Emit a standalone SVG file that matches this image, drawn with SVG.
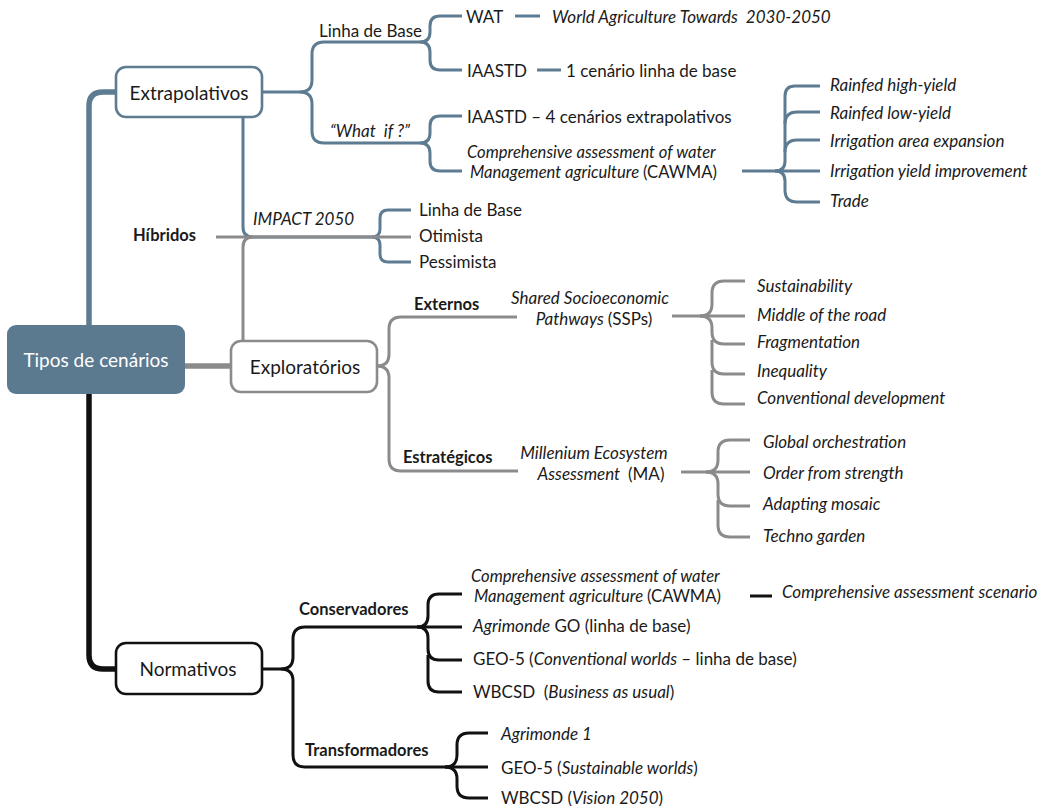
<svg xmlns="http://www.w3.org/2000/svg" width="1049" height="806" viewBox="0 0 1049 806">
<style>
.t{font-family:Lato,"Noto Sans",sans-serif;font-size:17px;fill:#1a1a1a;dominant-baseline:central;white-space:pre}
.i{font-style:italic}
.n{font-style:normal}
.sm{font-size:16.6px}
.b{font-weight:bold;font-size:16.5px}
.box{font-size:19px}
.c{fill:none;stroke-width:3;stroke-linecap:butt;stroke-linejoin:round}
.bl{stroke:#5d7b91}
.gr{stroke:#8b8b8d}
.k{stroke:#111}
.thick{stroke-width:5.5}
.nodebox{fill:#fff;stroke-width:2.6}
</style>
<rect width="1049" height="806" fill="#fff"/>
<g id="connectors">
  <path class="c bl thick" d="M89 326 V106 Q89 92 103 92 H117"/>
  <path class="c gr thick" d="M185 366 H232"/>
  <path class="c k thick" d="M89 393 V655 Q89 669 103 669 H117"/>
  <path class="c bl" d="M262 92 H300 Q312 92 312 80 V54 Q312 42 324 42 H420"/>
  <path class="c bl" d="M300 92 Q312 92 312 104 V131 Q312 143 324 143 H420"/>
  <path class="c bl" d="M420 42 Q430 42 430 32 V26 Q430 16 440 16 H462"/>
  <path class="c bl" d="M420 42 Q430 42 430 52 V60 Q430 70 440 70 H462"/>
  <path class="c bl" d="M515 16 H540"/>
  <path class="c bl" d="M537 70 H561"/>
  <path class="c bl" d="M420 143 Q430 143 430 133 V126 Q430 116 440 116 H462"/>
  <path class="c bl" d="M420 143 Q430 143 430 153 V161 Q430 171 440 171 H462"/>
  <path class="c bl" d="M742 171 H820"/>
  <path class="c bl" d="M775 171 Q785 171 785 161 V96 Q785 86 795 86 H820"/>
  <path class="c bl" d="M785 124 Q785 112 797 112 H820"/>
  <path class="c bl" d="M785 152 Q785 140 797 140 H820"/>
  <path class="c bl" d="M775 171 Q785 171 785 181 V190 Q785 202 797 202 H820"/>
  <path class="c bl" d="M243 117 V227 Q243 237 253 237 H372"/>
  <path class="c bl" d="M372 237 Q380 237 380 229 V218 Q380 210 388 210 H411"/>
  <path class="c bl" d="M372 237 Q380 237 380 245 V254 Q380 262 388 262 H411"/>
  <path class="c gr" d="M216 237 H411"/>
  <path class="c gr" d="M243 341 V247 Q243 237 253 237"/>
  <path class="c gr" d="M377 366 Q389 366 389 354 V329 Q389 317 401 317 H517"/>
  <path class="c gr" d="M377 366 Q389 366 389 378 V459 Q389 471 401 471 H518"/>
  <path class="c gr" d="M672 316 H745"/>
  <path class="c gr" d="M700 316 Q712 316 712 304 V293 Q712 281 724 281 H745"/>
  <path class="c gr" d="M700 316 Q712 316 712 328 V332 Q712 344 724 344 H745"/>
  <path class="c gr" d="M712 340 V362 Q712 374 724 374 H745"/>
  <path class="c gr" d="M712 370 V392 Q712 404 724 404 H745"/>
  <path class="c gr" d="M681 472 H750"/>
  <path class="c gr" d="M706 472 Q718 472 718 460 V452 Q718 440 730 440 H750"/>
  <path class="c gr" d="M706 472 Q718 472 718 484 V494 Q718 506 730 506 H750"/>
  <path class="c gr" d="M718 500 V525 Q718 537 730 537 H750"/>
  <path class="c k" d="M262 669 H281 Q293 669 293 657 V639 Q293 627 305 627 H417"/>
  <path class="c k" d="M281 669 Q293 669 293 681 V755 Q293 767 305 767 H445"/>
  <path class="c k" d="M417 627 H462"/>
  <path class="c k" d="M417 627 Q428 627 428 616 V605 Q428 594 439 594 H462"/>
  <path class="c k" d="M417 627 Q428 627 428 638 V649 Q428 660 439 660 H462"/>
  <path class="c k" d="M428 655 V681 Q428 692 439 692 H462"/>
  <path class="c k" d="M750 596 H772"/>
  <path class="c k" d="M445 767 H488"/>
  <path class="c k" d="M445 767 Q457 767 457 755 V745 Q457 733 469 733 H488"/>
  <path class="c k" d="M445 767 Q457 767 457 779 V786 Q457 798 469 798 H488"/>
</g>
<g id="root">
  <rect x="7" y="325" width="178" height="69" rx="9" fill="#5b798f"/>
  <text class="t box" x="96" y="359" text-anchor="middle" style="fill:#fff">Tipos de cenários</text>
</g>
<g id="extrapolativos">
  <rect class="nodebox" x="116" y="67" width="146" height="50" rx="10" stroke="#5d7b91"/>
  <text class="t box" x="189" y="92" text-anchor="middle">Extrapolativos</text>
</g>
<g id="exploratorios">
  <rect class="nodebox" x="231" y="341" width="146" height="51" rx="10" stroke="#8b8b8d"/>
  <text class="t box" x="305" y="366" text-anchor="middle">Exploratórios</text>
</g>
<g id="normativos">
  <rect class="nodebox" x="116" y="643" width="146" height="51" rx="10" stroke="#111"/>
  <text class="t box" x="188" y="668" text-anchor="middle">Normativos</text>
</g>
<g id="linha-base"><text class="t" x="319" y="30">Linha de Base</text></g>
<g id="wat"><text class="t" x="466" y="16">WAT</text></g>
<g id="wat-desc"><text class="t i" x="552" y="16">World Agriculture Towards  2030-2050</text></g>
<g id="iaastd"><text class="t" x="467" y="70">IAASTD</text></g>
<g id="iaastd-desc"><text class="t" x="566" y="70">1 cenário linha de base</text></g>
<g id="what-if"><text class="t i" x="330" y="130">“What  if ?”</text></g>
<g id="iaastd4"><text class="t" x="467" y="116">IAASTD – 4 cenários extrapolativos</text></g>
<g id="cawma1">
  <text class="t i sm" x="467" y="152">Comprehensive assessment of water</text>
  <text class="t i sm" x="470" y="172">Management agriculture <tspan class="n">(CAWMA)</tspan></text>
</g>
<g id="rainfed-high"><text class="t i" x="830" y="84">Rainfed high-yield</text></g>
<g id="rainfed-low"><text class="t i" x="830" y="112">Rainfed low-yield</text></g>
<g id="irr-area"><text class="t i" x="830" y="140">Irrigation area expansion</text></g>
<g id="irr-yield"><text class="t i" x="830" y="170">Irrigation yield improvement</text></g>
<g id="trade"><text class="t i" x="830" y="200">Trade</text></g>
<g id="hibridos"><text class="t b" x="133" y="235">Híbridos</text></g>
<g id="impact"><text class="t i" x="253" y="218">IMPACT 2050</text></g>
<g id="h-linha"><text class="t" x="419" y="209">Linha de Base</text></g>
<g id="h-otimista"><text class="t" x="419" y="235">Otimista</text></g>
<g id="h-pessimista"><text class="t" x="419" y="261">Pessimista</text></g>
<g id="externos"><text class="t b" x="414" y="304">Externos</text></g>
<g id="ssp">
  <text class="t i" x="590" y="297" text-anchor="middle">Shared Socioeconomic</text>
  <text class="t i" x="594" y="318" text-anchor="middle">Pathways <tspan class="n">(SSPs)</tspan></text>
</g>
<g id="sustainability"><text class="t i" x="757" y="285">Sustainability</text></g>
<g id="middle"><text class="t i" x="757" y="314">Middle of the road</text></g>
<g id="fragmentation"><text class="t i" x="757" y="341">Fragmentation</text></g>
<g id="inequality"><text class="t i" x="757" y="370">Inequality</text></g>
<g id="conventional"><text class="t i" x="757" y="397">Conventional development</text></g>
<g id="estrategicos"><text class="t b" x="403" y="457">Estratégicos</text></g>
<g id="ma">
  <text class="t i" x="594" y="452" text-anchor="middle">Millenium Ecosystem</text>
  <text class="t i" x="601" y="473" text-anchor="middle">Assessment  <tspan class="n">(MA)</tspan></text>
</g>
<g id="global"><text class="t i" x="763" y="441">Global orchestration</text></g>
<g id="order"><text class="t i" x="763" y="472">Order from strength</text></g>
<g id="adapting"><text class="t i" x="763" y="503">Adapting mosaic</text></g>
<g id="techno"><text class="t i" x="763" y="535">Techno garden</text></g>
<g id="conservadores"><text class="t b" x="299" y="609">Conservadores</text></g>
<g id="cawma2">
  <text class="t i sm" x="471" y="576">Comprehensive assessment of water</text>
  <text class="t i sm" x="474" y="596">Management agriculture <tspan class="n">(CAWMA)</tspan></text>
</g>
<g id="cas"><text class="t i" x="782" y="591">Comprehensive assessment scenario</text></g>
<g id="agrimonde-go"><text class="t" x="473" y="625"><tspan class="i">Agrimonde</tspan> GO (linha de base)</text></g>
<g id="geo5-conv"><text class="t" x="473" y="658">GEO-5 (<tspan class="i">Conventional worlds</tspan> – linha de base)</text></g>
<g id="wbcsd-bau"><text class="t" x="473" y="691">WBCSD  (<tspan class="i">Business as usual</tspan>)</text></g>
<g id="transformadores"><text class="t b" x="305" y="750">Transformadores</text></g>
<g id="agrimonde1"><text class="t i" x="501" y="733">Agrimonde 1</text></g>
<g id="geo5-sust"><text class="t" x="501" y="767">GEO-5 (<tspan class="i">Sustainable worlds</tspan>)</text></g>
<g id="wbcsd-vis"><text class="t" x="501" y="797">WBCSD (<tspan class="i">Vision 2050</tspan>)</text></g>
</svg>
